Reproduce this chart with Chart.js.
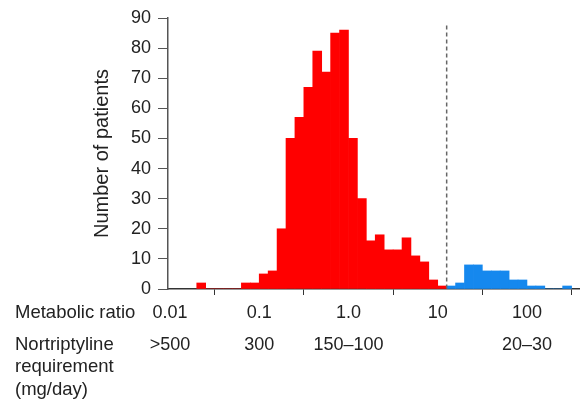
<!DOCTYPE html>
<html>
<head>
<meta charset="utf-8">
<script src="https://cdn.jsdelivr.net/npm/chart.js@4.4.1/dist/chart.umd.min.js"></script>
<style>
  html, body { margin: 0; padding: 0; background: #fff; }
  #wrap { width: 580px; height: 403px; }
</style>
</head>
<body>
<div id="wrap"><canvas id="ratioChart"></canvas></div>
<script>
// histogram bins are 0.1 wide in log10(metabolic ratio)
const binWidth = 0.1;
const redFirstBin = -1.7;
const redCounts = [2, 0, 0, 0, 0, 2, 2, 5, 6, 20, 50, 57, 67, 79, 72, 85, 86, 50, 30, 16, 18, 13, 13, 17, 11, 9, 3, 1];
const blueFirstBin = 1.1;
const blueCounts = [1, 2, 8, 8, 6, 6, 6, 3, 3, 1, 1, 0, 0, 1];

const ratioTicks = [0.01, 0.1, 1, 10, 100];
const ratioLabels = ['0.01', '0.1', '1.0', '10', '100'];
const doseLabels = ['>500', '300', '150–100', '', '20–30'];
const antimode = 12.6; // dashed cut-off line
const yTicks = [0, 10, 20, 30, 40, 50, 60, 70, 80, 90];

const textColor = '#222';
const axisColor = '#555';
const fontFamily = "'Liberation Sans', Arial, sans-serif";

// bin centre (geometric) for each count
function toPoints(firstBin, counts) {
    return counts.map((c, i) => ({
        x: Math.pow(10, firstBin + binWidth * i + binWidth / 2),
        y: c
    }));
}

// dashed vertical line + row captions under the x axis
const extrasPlugin = {
    id: 'extras',
    afterDatasetsDraw(chart) {
        const ctx = chart.ctx;
        const xs = chart.scales.x;
        const ys = chart.scales.y;
        const x = xs.getPixelForValue(antimode);
        ctx.save();
        ctx.strokeStyle = '#666';
        ctx.lineWidth = 1.5;
        ctx.setLineDash([4, 3]);
        ctx.beginPath();
        ctx.moveTo(x, ys.getPixelForValue(87.5));
        ctx.lineTo(x, ys.getPixelForValue(0));
        ctx.stroke();
        ctx.restore();
    },
    afterDraw(chart) {
        const ctx = chart.ctx;
        const xs = chart.scales.x;
        const first = xs.top + 24;
        ctx.save();
        ctx.fillStyle = textColor;
        ctx.font = '18.5px ' + fontFamily;
        ctx.textBaseline = 'middle';
        ctx.textAlign = 'left';
        ctx.fillText('Metabolic ratio', 15, first);
        ctx.fillText('Nortriptyline', 15, first + 32);
        ctx.fillText('requirement', 15, first + 54);
        ctx.fillText('(mg/day)', 15, first + 77);
        ctx.restore();
    }
};

const ctx = document.getElementById('ratioChart').getContext('2d');
new Chart(ctx, {
    type: 'bar',
    data: {
        datasets: [
            {
                data: toPoints(redFirstBin, redCounts),
                backgroundColor: '#ff0000',
                borderWidth: 0,
                grouped: false,
                barPercentage: 1,
                categoryPercentage: 1
            },
            {
                data: toPoints(blueFirstBin, blueCounts),
                backgroundColor: '#1588ee',
                borderWidth: 0,
                grouped: false,
                barPercentage: 1,
                categoryPercentage: 1
            }
        ]
    },
    options: {
        responsive: true,
        maintainAspectRatio: false,
        animation: false,
        layout: { padding: { top: 18, left: 0, right: 0, bottom: 0 } },
        plugins: {
            legend: { display: false },
            tooltip: { enabled: false }
        },
        scales: {
            x: {
                type: 'logarithmic',
                z: 1, // axis line over the bars, like the original
                min: 0.0095,
                max: 393,
                afterBuildTicks: scale => {
                    scale.ticks = ratioTicks.map(v => ({ value: v }));
                },
                afterFit: scale => { scale.height = 114; },
                border: { display: true, color: '#333', width: 1.5 },
                grid: {
                    display: true,
                    drawOnChartArea: false,
                    drawTicks: true,
                    tickLength: 6,
                    color: '#333'
                },
                ticks: {
                    autoSkip: false,
                    maxRotation: 0,
                    minRotation: 0,
                    padding: 2,
                    color: textColor,
                    font: { family: fontFamily, size: 18, lineHeight: 32 / 18 },
                    callback: (value, index) => [ratioLabels[index], doseLabels[index]]
                }
            },
            y: {
                min: 0,
                max: 90,
                afterBuildTicks: scale => {
                    scale.ticks = yTicks.map(v => ({ value: v }));
                },
                afterFit: scale => { scale.width = 168; },
                border: { display: true, color: axisColor, width: 1.5 },
                grid: {
                    display: true,
                    drawOnChartArea: false,
                    drawTicks: true,
                    tickLength: 10,
                    color: axisColor
                },
                ticks: {
                    padding: 7,
                    color: textColor,
                    font: { family: fontFamily, size: 18 }
                },
                title: {
                    display: true,
                    text: 'Number of patients',
                    color: textColor,
                    font: { family: fontFamily, size: 20, lineHeight: 1.2 },
                    padding: { top: 90, bottom: 0 }
                }
            }
        }
    },
    plugins: [extrasPlugin]
});
</script>
</body>
</html>
